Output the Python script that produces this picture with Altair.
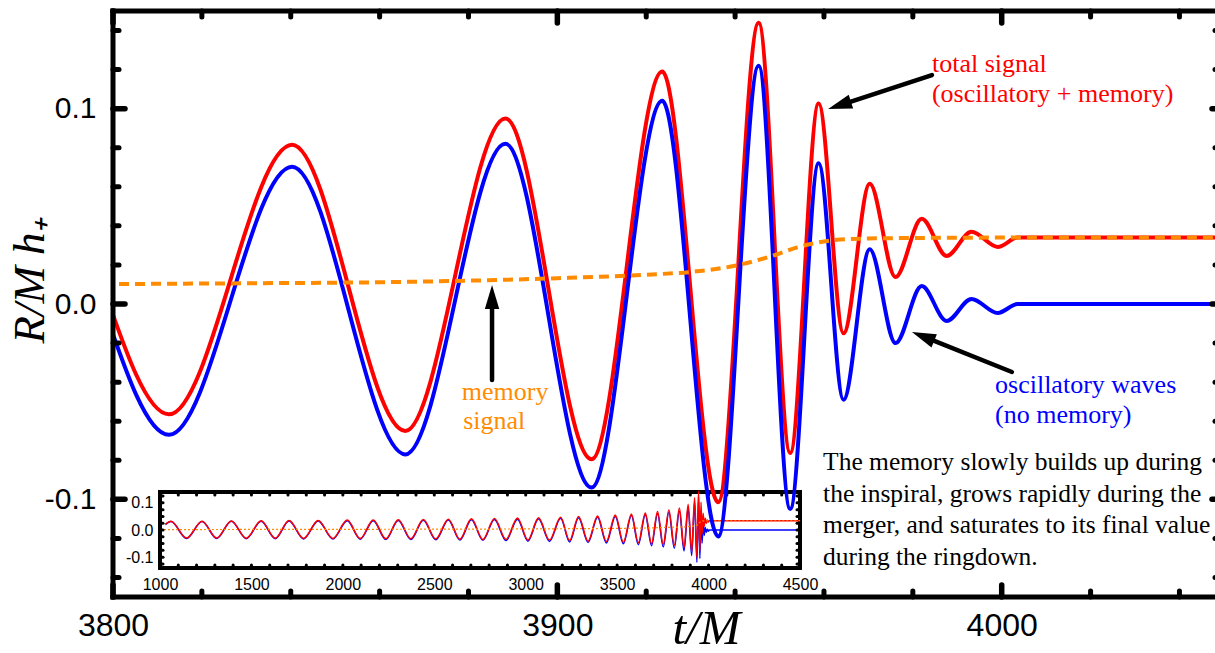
import altair as alt
import pandas as pd

# ---------------- data ----------------
# times of the extrema of the waveform (t/M)
T = [1030, 1060, 1145, 1230, 1310, 1390, 1472, 1553, 1630, 1706, 1785, 1865, 1945,
     2024, 2095, 2166, 2235, 2303, 2372, 2440, 2508, 2577, 2640, 2703, 2766, 2829,
     2892, 2955, 3012, 3070, 3130, 3191, 3240, 3289, 3341, 3393, 3441, 3490, 3534,
     3578, 3616, 3654, 3688, 3721, 3752, 3783, 3812.6, 3840.3, 3865.8, 3888.3,
     3907.7, 3923.6, 3936.2, 3945.3, 3952.4, 3958.8, 3964.4, 3970.3, 3976.1,
     3982.0, 3987.6, 3993.2, 3999.1, 4003.6, 4500]
# oscillatory waves (no memory)
H_OSC = [0.020, 0.031, -0.031, 0.031, -0.031, 0.032, -0.032, 0.032, -0.032, 0.033,
         -0.033, 0.033, -0.033, 0.034, -0.034, 0.034, -0.035, 0.035, -0.035, 0.036,
         -0.036, 0.037, -0.037, 0.038, -0.038, 0.039, -0.039, 0.040, -0.041, 0.041,
         -0.042, 0.043, -0.044, 0.045, -0.046, 0.047, -0.048, 0.050, -0.051, 0.053,
         -0.054, 0.056, -0.058, 0.060, -0.062, 0.065, -0.067, 0.0703, -0.077, 0.082,
         -0.094, 0.104, -0.119, 0.122, -0.105, 0.072, -0.049, 0.028, -0.020, 0.0092,
         -0.0087, 0.0026, -0.0046, 0.0, 0.0]
# total signal (oscillatory + memory)
H_TOT = [0.0215, 0.0325, -0.0295, 0.0325, -0.0295, 0.0335, -0.030, 0.034, -0.030,
         0.035, -0.031, 0.035, -0.031, 0.0365, -0.0315, 0.037, -0.032, 0.038, -0.032,
         0.039, -0.033, 0.040, -0.034, 0.041, -0.035, 0.042, -0.035, 0.044, -0.037,
         0.045, -0.037, 0.047, -0.039, 0.050, -0.041, 0.052, -0.042, 0.055, -0.045,
         0.059, -0.047, 0.063, -0.050, 0.068, -0.053, 0.074, -0.0565, 0.0815, -0.065,
         0.095, -0.0795, 0.119, -0.1015, 0.144, -0.0763, 0.1026, -0.015, 0.0615,
         0.0138, 0.0436, 0.0246, 0.037, 0.0292, 0.034, 0.034]
# memory signal
MEM_T = [1000, 1500, 2000, 2500, 3000, 3300, 3500, 3700, 3800, 3830, 3865, 3900,
         3920, 3930, 3940, 3949, 3954, 3958, 3966, 3980, 4003, 4500]
MEM_H = [0.0015, 0.002, 0.0025, 0.003, 0.004, 0.005, 0.006, 0.008, 0.0102, 0.0106,
         0.0113, 0.0132, 0.0150, 0.0164, 0.0196, 0.0251, 0.0290, 0.0312, 0.0333,
         0.0338, 0.034, 0.034]

# axes / ticks
X_MAJOR = [3800, 3900, 4000]
X_MINOR = [3820, 3840, 3860, 3880, 3920, 3940, 3960, 3980, 4020, 4040]
Y_MAJOR = [-0.1, 0.0, 0.1]
Y_MINOR = [-0.14, -0.12, -0.08, -0.06, -0.04, -0.02, 0.02, 0.04, 0.06, 0.08, 0.12, 0.14]
IN_X_LABELS = [1000, 1500, 2000, 2500, 3000, 3500, 4000, 4500]
IN_X_MINOR = [1100, 1200, 1300, 1400, 1500, 1600, 1700, 1800, 1900, 2000, 2100, 2200,
              2300, 2400, 2500, 2600, 2700, 2800, 2900, 3000, 3100, 3200, 3300, 3400,
              3500, 3600, 3700, 3800, 3900, 4000, 4100, 4200, 4300, 4400]
IN_Y_LABELS = [-0.1, 0.0, 0.1]
IN_Y_MINOR = [-0.125, -0.1, -0.075, -0.05, -0.025, 0.0, 0.025, 0.05, 0.075, 0.1, 0.125]

# annotations (data coordinates)
LBL_X = [3984.3, 3984.3, 3998.5, 3998.5, 3878.5, 3878.8]
LBL_Y = [0.1188, 0.1034, -0.0456, -0.0609, -0.0491, -0.0640]
LBL = ["total signal", "(oscillatory + memory)", "oscillatory waves", "(no memory)",
       "memory", "signal"]
LBL_C = ["#FF0000", "#FF0000", "#0000FF", "#0000FF", "#FF8C00", "#FF8C00"]
PAR_X = [3959.8, 3959.8, 3959.8, 3959.8]
PAR_Y = [-0.0850, -0.1014, -0.1172, -0.1336]
PAR = ["The memory slowly builds up during",
       "the inspiral, grows rapidly during the",
       "merger, and saturates to its final value",
       "during the ringdown."]
ARR_X = [3984.3, 4002.3, 3885.3]
ARR_Y = [0.1172, -0.0348, -0.0389]
ARR_HX = [3963.5, 3982.3, 3885.3]
ARR_HY = [0.1017, -0.0166, 0.0036]
ARR_ANG = [252, 292, 0]

# ---------------- layout ----------------
W, H = 1102, 586
X_MAX = 4048.0
IX0, IX1, IY0, IY1 = 47, 687, 557, 481   # inset frame in plot pixels

wave = pd.DataFrame({"t": T, "osc": H_OSC, "tot": H_TOT})
mem = pd.DataFrame({"t": MEM_T, "mem": MEM_H})

xs = alt.Scale(domain=[3800, X_MAX], range=[0, W], nice=False, zero=False)
ys = alt.Scale(domain=[-0.15, 0.15], range=[H, 0], nice=False, zero=False)
ixs = alt.Scale(domain=[1000, 4500], range=[IX0, IX1], nice=False, zero=False)
iys = alt.Scale(domain=[-0.14, 0.14], range=[IY0, IY1], nice=False, zero=False)

FMT = "datum.value < 0 ? '-' + format(-datum.value, '.1f') : format(datum.value, '.1f')"

x_axis = alt.Axis(values=X_MAJOR, format="d", orient="bottom",
                  labelFont="Liberation Sans", labelFontSize=32,
                  labelColor="black", labelPadding=13, labelFlush=False, labelOverlap=False,
                  ticks=False, domain=False, grid=False,
                  title="t/M", titleFont="Liberation Serif", titleFontStyle="italic",
                  titleFontWeight="normal", titleFontSize=49, titleColor="black",
                  titleX=593, titleY=46, titleAlign="center", titleBaseline="alphabetic")
y_axis = alt.Axis(values=Y_MAJOR, labelExpr=FMT, orient="left",
                  labelFont="Liberation Sans", labelFontSize=30,
                  labelColor="black", labelPadding=17, labelFlush=False, labelOverlap=False,
                  ticks=False, domain=False, grid=False,
                  title="R/M h\u208a", titleFont="Liberation Serif", titleFontStyle="italic",
                  titleFontWeight="normal", titleFontSize=45, titleColor="black",
                  titleAngle=270, titleX=-70, titleY=269, titleAlign="center",
                  titleBaseline="alphabetic")
ix_axis = alt.Axis(values=IN_X_LABELS, format="d", orient="bottom", offset=-(H - IY0),
                   labelFont="Liberation Sans", labelFontSize=16, labelColor="black",
                   labelPadding=8, labelFlush=False, labelOverlap=False,
                   ticks=False, domain=False, grid=False, title="")
iy_axis = alt.Axis(values=IN_Y_LABELS, labelExpr=FMT, orient="left", offset=-IX0,
                   labelFont="Liberation Sans", labelFontSize=16, labelColor="black",
                   labelPadding=7, labelFlush=False, labelOverlap=False,
                   ticks=False, domain=False, grid=False, title="")


def vticks(vals, scale, y_from, y_to, width):
    return alt.Chart(pd.DataFrame({"v": vals})).mark_rule(
        color="black", strokeWidth=width, strokeCap="round").encode(
        x=alt.X("v:Q", scale=scale, axis=None), y=alt.value(y_from), y2=alt.value(y_to))


def hticks(vals, scale, x_from, x_to, width):
    return alt.Chart(pd.DataFrame({"v": vals})).mark_rule(
        color="black", strokeWidth=width, strokeCap="round").encode(
        y=alt.Y("v:Q", scale=scale, axis=None), x=alt.value(x_from), x2=alt.value(x_to))


# ---------------- inset ----------------
frame = alt.Chart(pd.DataFrame({"a": [1000], "b": [4500], "c": [-0.14], "d": [0.14]})).mark_rect(
    fill="white", stroke="black", strokeWidth=4).encode(
    x=alt.X("a:Q", scale=ixs, axis=ix_axis), x2="b:Q",
    y=alt.Y("c:Q", scale=iys, axis=iy_axis), y2="d:Q")
in_tot = alt.Chart(wave).mark_line(color="#FF0000", strokeWidth=1.5, interpolate="monotone").encode(
    x=alt.X("t:Q", scale=ixs, axis=None), y=alt.Y("tot:Q", scale=iys, axis=None))
in_osc = alt.Chart(wave).mark_line(color="#0000FF", strokeWidth=1.5, interpolate="monotone").encode(
    x=alt.X("t:Q", scale=ixs, axis=None), y=alt.Y("osc:Q", scale=iys, axis=None))
in_mem = alt.Chart(mem).mark_line(color="#FF8C00", strokeWidth=1.2, strokeDash=[2, 2],
                                  interpolate="monotone").encode(
    x=alt.X("t:Q", scale=ixs, axis=None), y=alt.Y("mem:Q", scale=iys, axis=None))
inset_layers = [
    frame, in_osc, in_tot, in_mem,
    vticks(IN_X_MINOR, ixs, IY1, IY1 + 3, 3), vticks(IN_X_MINOR, ixs, IY0, IY0 - 3, 3),
    hticks(IN_Y_MINOR, iys, IX0, IX0 + 3, 3), hticks(IN_Y_MINOR, iys, IX1, IX1 - 3, 3),
]

# ---------------- main plot ----------------
tot = alt.Chart(wave).mark_line(color="#FF0000", strokeWidth=4, interpolate="monotone", clip=True).encode(
    x=alt.X("t:Q", scale=xs, axis=x_axis), y=alt.Y("tot:Q", scale=ys, axis=y_axis))
osc = alt.Chart(wave).mark_line(color="#0000FF", strokeWidth=4, interpolate="monotone", clip=True).encode(
    x=alt.X("t:Q", scale=xs, axis=None), y=alt.Y("osc:Q", scale=ys, axis=None))
memline = alt.Chart(mem).mark_line(color="#FF8C00", strokeWidth=4, strokeDash=[10, 6],
                                   interpolate="monotone", clip=True).encode(
    x=alt.X("t:Q", scale=xs, axis=None), y=alt.Y("mem:Q", scale=ys, axis=None))

labels = alt.Chart(pd.DataFrame({"x": LBL_X, "y": LBL_Y, "s": LBL, "c": LBL_C})).mark_text(
    font="Liberation Serif", fontSize=26, align="left", baseline="alphabetic").encode(
    x=alt.X("x:Q", scale=xs, axis=None), y=alt.Y("y:Q", scale=ys, axis=None),
    text="s:N", color=alt.Color("c:N", scale=None))
para = alt.Chart(pd.DataFrame({"x": PAR_X, "y": PAR_Y, "s": PAR})).mark_text(
    font="Liberation Serif", fontSize=25.5, align="left", baseline="alphabetic", color="black").encode(
    x=alt.X("x:Q", scale=xs, axis=None), y=alt.Y("y:Q", scale=ys, axis=None), text="s:N")
arr = pd.DataFrame({"x": ARR_X, "y": ARR_Y, "hx": ARR_HX, "hy": ARR_HY, "ang": ARR_ANG})
shafts = alt.Chart(arr).mark_rule(color="black", strokeWidth=4.5, strokeCap="round").encode(
    x=alt.X("x:Q", scale=xs, axis=None), y=alt.Y("y:Q", scale=ys, axis=None),
    x2="hx:Q", y2="hy:Q")
heads = alt.Chart(arr).mark_point(shape="M0,-1L0.6,1L-0.6,1Z", filled=True, size=576,
                                  color="black", opacity=1).encode(
    x=alt.X("hx:Q", scale=xs, axis=None), y=alt.Y("hy:Q", scale=ys, axis=None),
    angle=alt.Angle("ang:Q", scale=None))

border = alt.Chart(pd.DataFrame({"k": [0]})).mark_rule(color="black", strokeWidth=5, strokeCap="square")
top_line = border.encode(x=alt.value(0), x2=alt.value(W + 10), y=alt.value(0))
left_line = border.encode(x=alt.value(0), y=alt.value(0), y2=alt.value(H))
bottom_line = border.encode(x=alt.value(0), x2=alt.value(W + 10), y=alt.value(H))

main_layers = [
    tot, osc, memline, shafts, heads, labels, para, top_line, left_line, bottom_line,
    vticks(X_MINOR, xs, 0, 6, 5), vticks(X_MAJOR, xs, 0, 12, 5.5),
    vticks(X_MINOR, xs, H, H - 6, 5), vticks(X_MAJOR, xs, H, H - 12, 5.5),
    hticks(Y_MINOR, ys, 0, 6, 5), hticks(Y_MAJOR, ys, 0, 12, 5.5),
    hticks(Y_MINOR, ys, W + 5, W, 5), hticks(Y_MAJOR, ys, W + 5, W - 3, 5.5),
]

chart = alt.layer(*inset_layers, *main_layers).resolve_scale(
    x="independent", y="independent").properties(
    width=W, height=H,
    autosize=alt.AutoSizeParams(type="none"),
    padding={"left": 113, "top": 11, "right": 0, "bottom": 56},
).configure_view(strokeWidth=0).configure_axis(grid=False)

chart.save("out.html", embed_options={"renderer": "svg", "actions": False})
